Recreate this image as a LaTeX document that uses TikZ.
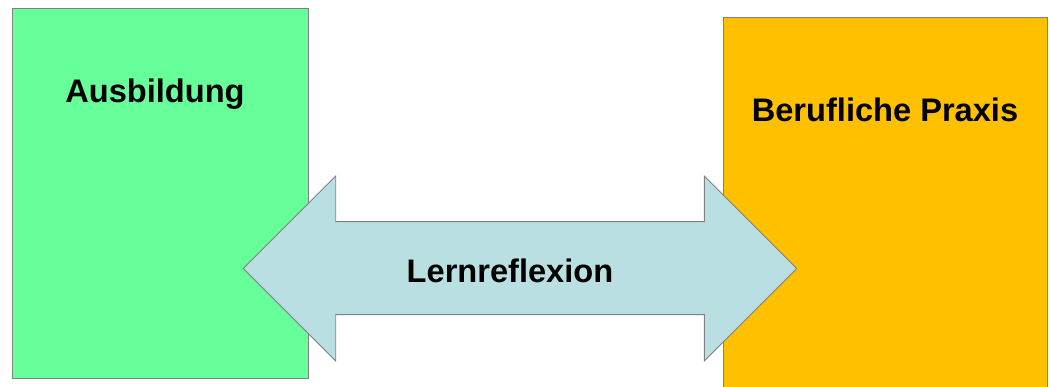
\documentclass[tikz,border=0pt]{standalone}
\usepackage{fontspec}
\setmainfont{Liberation Sans}
\definecolor{boxgreen}{HTML}{66FF99}
\definecolor{boxorange}{HTML}{FFC000}
\definecolor{arrowfill}{HTML}{B9DFE2}
\definecolor{edgegray}{HTML}{808080}
\begin{document}
\begin{tikzpicture}[x=1pt,y=1pt,
  box/.style={draw=edgegray, line width=0.9pt, anchor=south west, inner sep=0pt},
  lbl/.style={font=\fontsize{32.6}{36}\selectfont\bfseries, anchor=base, inner sep=0pt}]
\useasboundingbox (0,0) rectangle (1049,387);
\clip (0,0) rectangle (1049,387);
\node[box, fill=boxgreen, minimum width=296pt, minimum height=370pt] (ausb) at (11.5,8) {};
\node[box, fill=boxorange, minimum width=324pt, minimum height=380pt] (praxis) at (723.3,-11) {};
\draw[draw=edgegray, line width=0.9pt, fill=arrowfill, line join=miter]
  (243.3,118.5) -- (335.7,211) -- (335.7,165.3) -- (704.3,165.3) -- (704.3,211)
  -- (796.7,118.5) -- (704.3,26) -- (704.3,72.3) -- (335.7,72.3) -- (335.7,26) -- cycle;
\node[lbl] (t1) at (155,284) {Ausbildung};
\node[lbl] (t2) at (885,265) {Berufliche Praxis};
\node[lbl] (t3) at (510,104.5) {Lernreflexion};
\end{tikzpicture}
\end{document}
